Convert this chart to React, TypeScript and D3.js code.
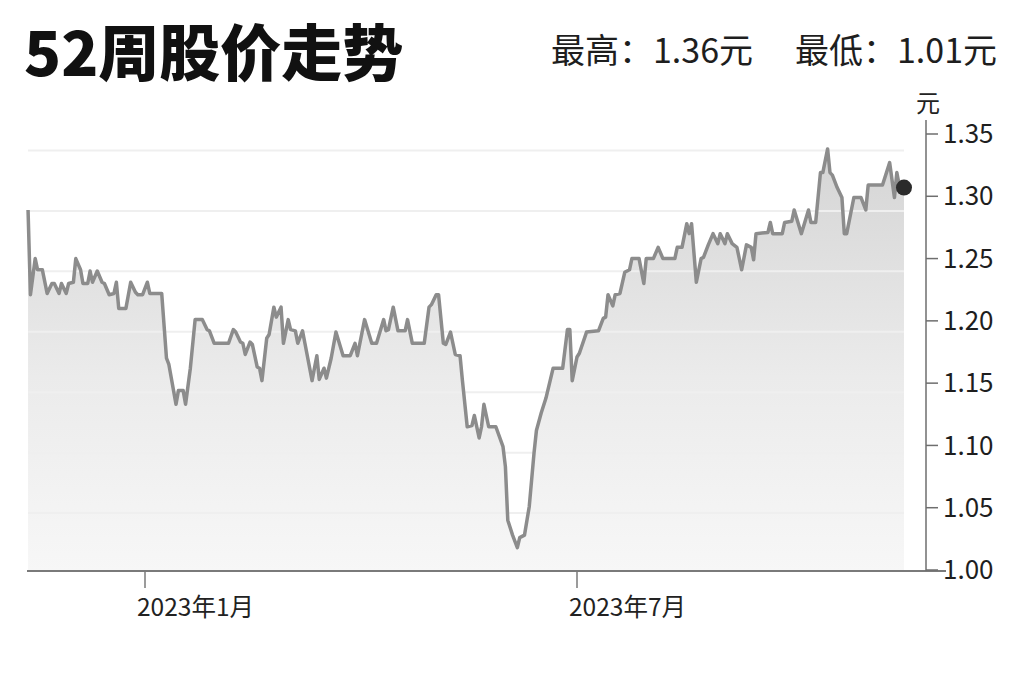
import * as d3 from "d3";

// 52-week closing prices
const dates = [
  "2022-11-13", "2022-11-14", "2022-11-16", "2022-11-17", "2022-11-19", "2022-11-21", "2022-11-23", "2022-11-24",
  "2022-11-26", "2022-11-27", "2022-11-29", "2022-11-30", "2022-12-02", "2022-12-03", "2022-12-05", "2022-12-06",
  "2022-12-08", "2022-12-09", "2022-12-10", "2022-12-12", "2022-12-14", "2022-12-15", "2022-12-17", "2022-12-19",
  "2022-12-20", "2022-12-21", "2022-12-24", "2022-12-26", "2022-12-28", "2022-12-29", "2022-12-31", "2023-01-02",
  "2023-01-03", "2023-01-08", "2023-01-10", "2023-01-11", "2023-01-14", "2023-01-15", "2023-01-17", "2023-01-18",
  "2023-01-20", "2023-01-22", "2023-01-25", "2023-01-27", "2023-01-28", "2023-01-30", "2023-02-05", "2023-02-07",
  "2023-02-08", "2023-02-10", "2023-02-11", "2023-02-12", "2023-02-14", "2023-02-15", "2023-02-17", "2023-02-18",
  "2023-02-19", "2023-02-21", "2023-02-22", "2023-02-24", "2023-02-25", "2023-02-27", "2023-02-28", "2023-03-02",
  "2023-03-03", "2023-03-05", "2023-03-06", "2023-03-08", "2023-03-09", "2023-03-12", "2023-03-14", "2023-03-15",
  "2023-03-17", "2023-03-18", "2023-03-20", "2023-03-22", "2023-03-25", "2023-03-28", "2023-03-30", "2023-03-31",
  "2023-04-03", "2023-04-06", "2023-04-08", "2023-04-11", "2023-04-12", "2023-04-13", "2023-04-15", "2023-04-17",
  "2023-04-20", "2023-04-21", "2023-04-23", "2023-04-28", "2023-04-30", "2023-05-01", "2023-05-03", "2023-05-04",
  "2023-05-06", "2023-05-07", "2023-05-09", "2023-05-11", "2023-05-13", "2023-05-14", "2023-05-16", "2023-05-18",
  "2023-05-19", "2023-05-21", "2023-05-22", "2023-05-23", "2023-05-25", "2023-05-28", "2023-05-31", "2023-06-01",
  "2023-06-02", "2023-06-04", "2023-06-06", "2023-06-07", "2023-06-09", "2023-06-11", "2023-06-13", "2023-06-14",
  "2023-06-16", "2023-06-18", "2023-06-21", "2023-06-25", "2023-06-27", "2023-06-28", "2023-06-29", "2023-07-01",
  "2023-07-02", "2023-07-05", "2023-07-10", "2023-07-12", "2023-07-13", "2023-07-14", "2023-07-16", "2023-07-17",
  "2023-07-19", "2023-07-21", "2023-07-23", "2023-07-24", "2023-07-27", "2023-07-29", "2023-07-30", "2023-08-02",
  "2023-08-04", "2023-08-06", "2023-08-11", "2023-08-12", "2023-08-14", "2023-08-16", "2023-08-17", "2023-08-18",
  "2023-08-20", "2023-08-22", "2023-08-23", "2023-08-25", "2023-08-27", "2023-08-29", "2023-08-30", "2023-09-01",
  "2023-09-02", "2023-09-04", "2023-09-06", "2023-09-08", "2023-09-10", "2023-09-12", "2023-09-13", "2023-09-14",
  "2023-09-19", "2023-09-20", "2023-09-21", "2023-09-25", "2023-09-26", "2023-09-29", "2023-09-30", "2023-10-03",
  "2023-10-06", "2023-10-07", "2023-10-09", "2023-10-11", "2023-10-12", "2023-10-14", "2023-10-15", "2023-10-16",
  "2023-10-18", "2023-10-20", "2023-10-21", "2023-10-22", "2023-10-25", "2023-10-28", "2023-10-30", "2023-10-31",
  "2023-11-06", "2023-11-09", "2023-11-11", "2023-11-12", "2023-11-13", "2023-11-15",
];

const prices = [
  1.289, 1.221, 1.25, 1.241, 1.241, 1.222, 1.23, 1.23,
  1.222, 1.23, 1.222, 1.23, 1.231, 1.25, 1.241, 1.23,
  1.23, 1.24, 1.231, 1.24, 1.231, 1.23, 1.221, 1.222,
  1.231, 1.21, 1.21, 1.231, 1.223, 1.221, 1.221, 1.231,
  1.222, 1.222, 1.17, 1.165, 1.133, 1.144, 1.144, 1.133,
  1.162, 1.201, 1.201, 1.193, 1.192, 1.182, 1.182, 1.193,
  1.191, 1.183, 1.182, 1.173, 1.183, 1.181, 1.163, 1.162,
  1.152, 1.186, 1.189, 1.211, 1.203, 1.211, 1.182, 1.201,
  1.193, 1.192, 1.182, 1.192, 1.182, 1.152, 1.172, 1.153,
  1.162, 1.154, 1.17, 1.191, 1.172, 1.172, 1.182, 1.172,
  1.201, 1.182, 1.182, 1.201, 1.192, 1.193, 1.211, 1.192,
  1.192, 1.201, 1.182, 1.182, 1.211, 1.213, 1.221, 1.221,
  1.182, 1.181, 1.191, 1.173, 1.172, 1.152, 1.115, 1.116,
  1.124, 1.106, 1.115, 1.133, 1.115, 1.115, 1.099, 1.083,
  1.04, 1.028, 1.018, 1.026, 1.028, 1.051, 1.094, 1.112,
  1.126, 1.138, 1.162, 1.162, 1.193, 1.193, 1.152, 1.171,
  1.174, 1.191, 1.192, 1.202, 1.203, 1.221, 1.212, 1.221,
  1.222, 1.239, 1.241, 1.25, 1.25, 1.23, 1.25, 1.25,
  1.259, 1.25, 1.25, 1.259, 1.259, 1.278, 1.27, 1.278,
  1.231, 1.25, 1.251, 1.261, 1.27, 1.262, 1.27, 1.262,
  1.27, 1.262, 1.259, 1.241, 1.261, 1.259, 1.249, 1.27,
  1.271, 1.279, 1.27, 1.27, 1.279, 1.28, 1.289, 1.27,
  1.289, 1.279, 1.279, 1.319, 1.319, 1.338, 1.319, 1.317,
  1.307, 1.299, 1.27, 1.27, 1.299, 1.299, 1.289, 1.309,
  1.309, 1.327, 1.299, 1.319, 1.309, 1.307,
];

const yTicks = [1.0, 1.05, 1.1, 1.15, 1.2, 1.25, 1.3, 1.35];
const gridTicks = [1.05, 1.1, 1.15, 1.2, 1.25, 1.3, 1.35];
const xTicks = ["2023-01-01", "2023-07-01"];
const xTickLabels = ["2023年1月", "2023年7月"];

const title = "52周股价走势";
const highLabel = "最高：1.36元";
const lowLabel = "最低：1.01元";
const unitLabel = "元";

const font = "'Noto Sans CJK SC', 'Noto Sans', sans-serif";

export default function App() {
  const width = 1024;
  const height = 682;
  const parse = d3.timeParse("%Y-%m-%d");

  const data = dates.map((d, i) => ({ date: parse(d) as Date, value: prices[i] }));

  const x = d3.scaleTime([parse("2023-01-01") as Date, parse("2023-07-01") as Date], [145, 577]);
  const y = d3.scaleLinear([1.0, 1.35], [570, 134]);
  // background grid sits on a slightly different scale than the axis labels
  const yGrid = d3.scaleLinear([1.0, 1.35], [573.5, 150.5]);

  const axisY = 571;
  const axisX = 926;

  const line = d3.line<{ date: Date; value: number }>()
    .x((d) => x(d.date))
    .y((d) => y(d.value));
  const area = d3.area<{ date: Date; value: number }>()
    .x((d) => x(d.date))
    .y0(axisY)
    .y1((d) => y(d.value));

  const last = data[data.length - 1];
  const x0 = x(data[0].date);
  const x1 = x(last.date);

  return (
    <div style={{ position: "absolute", left: 0, top: 0 }}>
      <svg width={width} height={height} style={{ display: "block", background: "#fff" }}>
        <defs>
          <linearGradient id="fillGrad" gradientUnits="userSpaceOnUse" x1={0} y1={140} x2={0} y2={axisY}>
            <stop offset="0%" stopColor="#d4d4d4" />
            <stop offset="55%" stopColor="#ebebeb" />
            <stop offset="100%" stopColor="#f7f7f7" />
          </linearGradient>
        </defs>

        <path d={area(data) ?? ""} fill="url(#fillGrad)" />

        {gridTicks.map((t) => (
          <line key={t} x1={x0} x2={x1} y1={yGrid(t)} y2={yGrid(t)} stroke="#efefef" strokeWidth={2} />
        ))}

        <path d={line(data) ?? ""} fill="none" stroke="#8c8c8c" strokeWidth={3.5} strokeLinejoin="round" />
        <circle cx={x1} cy={y(last.value)} r={8} fill="#2b2b2b" />

        {/* x axis */}
        <line x1={27} x2={946} y1={axisY} y2={axisY} stroke="#7a7a7a" strokeWidth={2} />
        {xTicks.map((t, i) => {
          const tx = x(parse(t) as Date);
          return (
            <g key={t}>
              <line x1={tx} x2={tx} y1={axisY} y2={axisY + 17} stroke="#7a7a7a" strokeWidth={1.5} />
              <text x={tx - 8} y={616} fontFamily={font} fontSize={24.5} fill="#222">{xTickLabels[i]}</text>
            </g>
          );
        })}

        {/* y axis */}
        <line x1={axisX} x2={axisX} y1={120} y2={axisY} stroke="#6e6e6e" strokeWidth={1.5} />
        {yTicks.map((t) => (
          <g key={t}>
            <line x1={axisX} x2={axisX + 12} y1={y(t)} y2={y(t)} stroke="#6e6e6e" strokeWidth={1.5} />
            <text x={axisX + 17} y={y(t)} dy="0.35em" fontFamily={font} fontSize={26} fill="#1e1e1e">
              {d3.format(".2f")(t)}
            </text>
          </g>
        ))}
        <text x={928} y={112} textAnchor="middle" fontFamily={font} fontSize={24} fill="#222">{unitLabel}</text>

        {/* header */}
        <text x={24} y={76} fontFamily={font} fontWeight={900} fontSize={61} fill="#111">{title}</text>
        <text x={551} y={63} fontFamily={font} fontSize={34} fill="#1e1e1e">{highLabel}</text>
        <text x={997} y={63} textAnchor="end" fontFamily={font} fontSize={34} fill="#1e1e1e">{lowLabel}</text>
      </svg>
    </div>
  );
}
